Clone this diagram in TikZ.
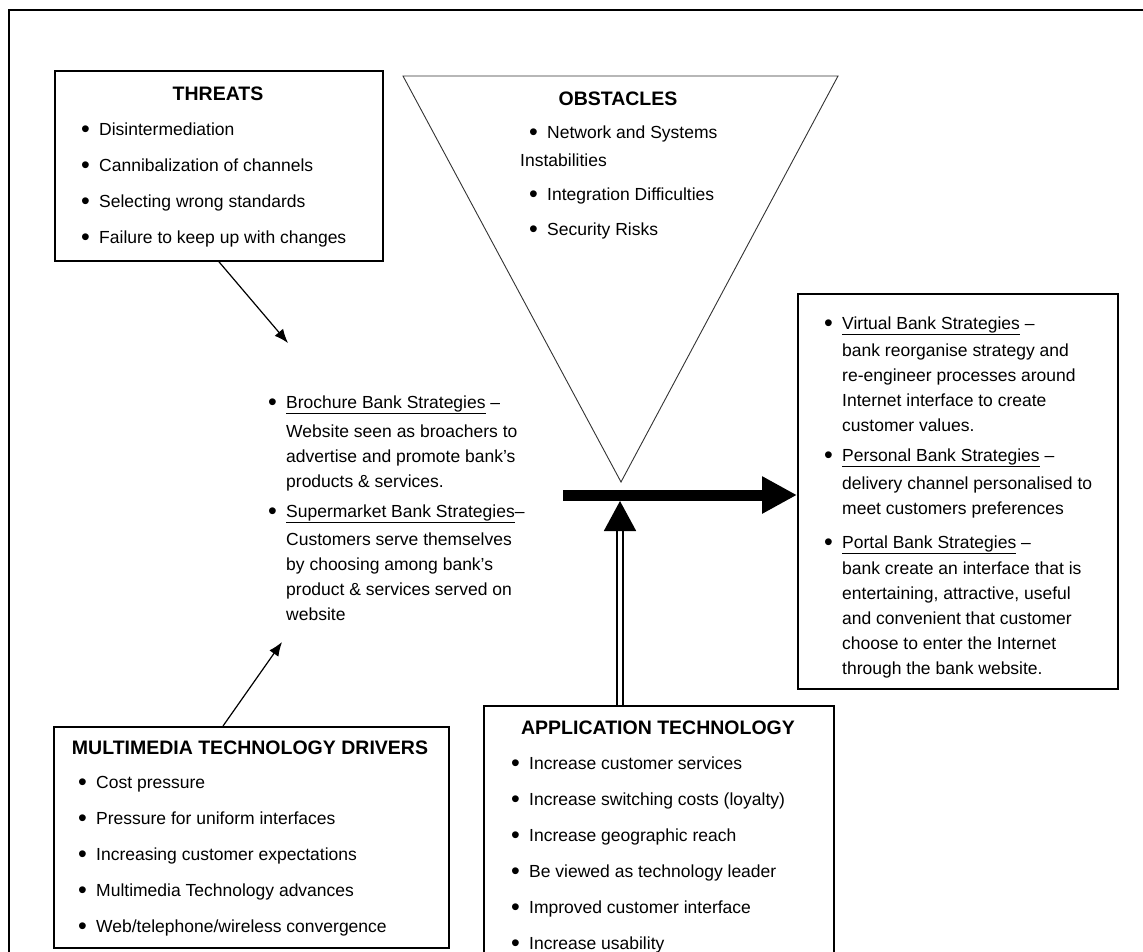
\documentclass[tikz,border=0pt]{standalone}
\usepackage{fontspec}
\setmainfont{Liberation Sans}
\usepackage{tikz}
\usetikzlibrary{arrows.meta,positioning}

\newcommand{\bul}{\makebox[18pt][l]{\raisebox{-2.6pt}{\fontsize{25}{25}\selectfont\textbullet}}}
\newcommand{\ind}{\makebox[18pt]{}}

\begin{document}
\begin{tikzpicture}[x=1pt, y=-1pt,
  box/.style={draw, line width=1.6pt, anchor=north west, inner sep=0pt},
  head/.style={font=\fontsize{19.5}{22}\selectfont\bfseries, anchor=base},
  list/.style={align=left, anchor=base west, inner sep=0pt, font=\fontsize{17.5}{36}\selectfont},
  tight/.style={list, font=\fontsize{17.5}{25}\selectfont},
  pointer/.style={-{Latex[length=14pt,width=11pt]}, line width=1.2pt}
]
\useasboundingbox (0,0) rectangle (1143,951);
\clip (0,0) rectangle (1143,951);
\draw[line width=2pt] (9,970) -- (9,10) -- (1160,10);

% threats (list nodes sit on the baseline of their last line)
\node[box, minimum width=328pt, minimum height=190pt] (threats) at (54,70) {};
\node[head] (threatsT) at (218,100) {THREATS};
\node[list] (threatsL) at (81,243) {\bul Disintermediation\\ \bul Cannibalization of channels\\
  \bul Selecting wrong standards\\ \bul Failure to keep up with changes};

% obstacles
\coordinate (obsA) at (403,76);
\coordinate (obsB) at (838,76);
\coordinate (obsC) at (621,482);
\draw[line width=0.9pt, draw=black!80] (obsA) -- (obsB) -- (obsC) -- cycle;
\node[head] (obsT) at (618,105) {OBSTACLES};
\node[list, font=\fontsize{17.5}{28}\selectfont] (obsL) at (520,235) {\hspace*{9pt}\bul Network and Systems\\
  Instabilities\\[6pt] \hspace*{9pt}\bul Integration Difficulties\\[7pt] \hspace*{9pt}\bul Security Risks};

% strategies in the middle
\node[tight] (mid) at (268,620) {\bul\underline{Brochure Bank Strategies} --\\[4pt]
  \ind Website seen as broachers to\\ \ind advertise and promote bank's\\ \ind products \& services.\\[5pt]
  \bul\underline{Supermarket Bank Strategies}--\\[3pt] \ind Customers serve themselves\\
  \ind by choosing among bank's\\ \ind product \& services served on\\ \ind website};

% strategies on the right
\node[box, minimum width=320pt, minimum height=395pt] (strat) at (797,293) {};
\node[tight] (stratL) at (824,674) {\bul\underline{Virtual Bank Strategies} --\\[2pt]
  \ind bank reorganise strategy and\\ \ind re-engineer processes around\\
  \ind Internet interface to create\\ \ind customer values.\\[5pt]
  \bul\underline{Personal Bank Strategies} --\\[3pt] \ind delivery channel personalised to\\
  \ind meet customers preferences\\[9pt]
  \bul\underline{Portal Bank Strategies} --\\[1pt] \ind bank create an interface that is\\
  \ind entertaining, attractive, useful\\ \ind and convenient that customer\\
  \ind choose to enter the Internet\\ \ind through the bank website.};

% drivers
\node[box, minimum width=395pt, minimum height=221pt] (media) at (53,726) {};
\node[head] (mediaT) at (250,754) {MULTIMEDIA TECHNOLOGY DRIVERS};
\node[list] (mediaL) at (78,932) {\bul Cost pressure\\ \bul Pressure for uniform interfaces\\
  \bul Increasing customer expectations\\ \bul Multimedia Technology advances\\
  \bul Web/telephone/wireless convergence};

% application technology
\node[box, minimum width=350pt, minimum height=300pt] (app) at (483,705) {};
\node[head] (appT) at (658,734) {APPLICATION TECHNOLOGY};
\node[list] (appL) at (511,949) {\bul Increase customer services\\ \bul Increase switching costs (loyalty)\\
  \bul Increase geographic reach\\ \bul Be viewed as technology leader\\
  \bul Improved customer interface\\ \bul Increase usability};

% arrows
\coordinate (flowS) at (563,495);
\coordinate (joinP) at (620,501);
\coordinate (thrTip) at (288,343);
\coordinate (medTip) at (282,642);
\draw[-{Triangle[length=35pt,width=35pt]}, line width=11pt] (flowS) -- (flowS -| strat.west);
\draw[-{Triangle[length=30pt,width=32pt]}, line width=1.8pt, double distance=3.5pt] (joinP |- app.north) -- (joinP);
\draw[pointer] (threats.south) -- (thrTip);
\draw[pointer] ([xshift=170pt]media.north west) -- (medTip);
\end{tikzpicture}
\end{document}
